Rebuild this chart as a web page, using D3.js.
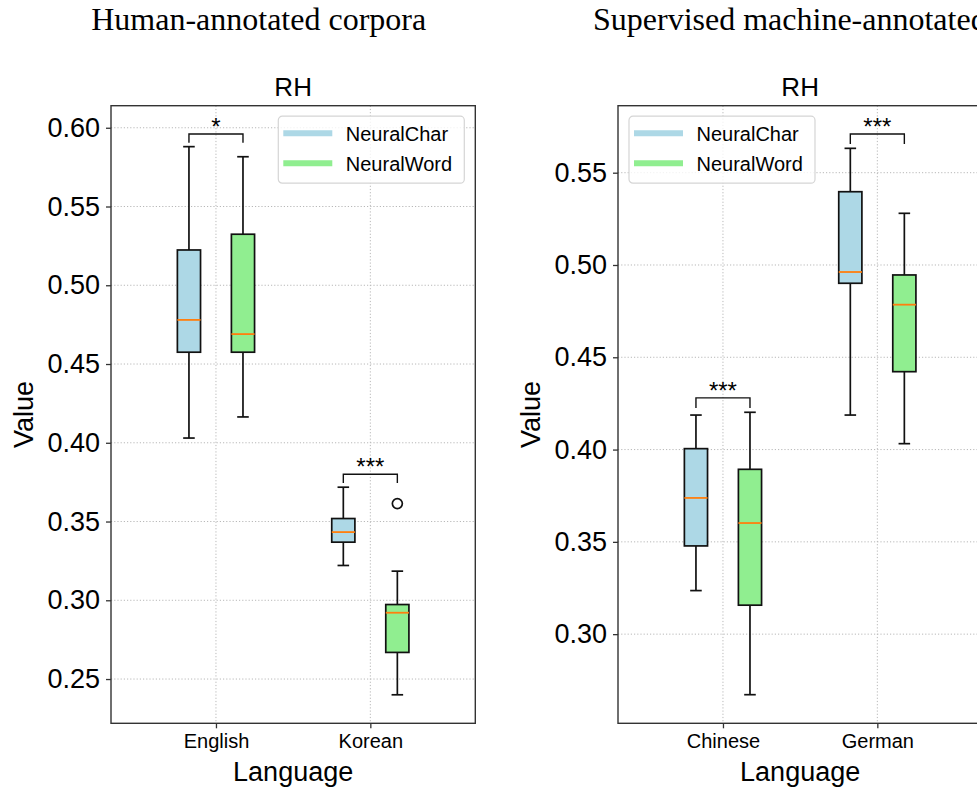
<!DOCTYPE html>
<html>
 <head>
 <title>RH boxplots</title>
 <meta charset="UTF-8">
 <style type="text/css">
  body { margin: 0; background: #fff; }
  text { font-family: "Liberation Sans", Arial, Helvetica, sans-serif; fill: #000; }
  .suptitle { font-family: "Liberation Serif", "Times New Roman", serif; }
 </style>
 <script src="https://d3js.org/d3.v7.min.js"></script>
 </head>
 <body>
 <script type="text/javascript">

    // series and categories
    var seriesNames = ["NeuralChar", "NeuralWord"];
    var seriesColors = ["#add8e6", "#90ee90"];

    var leftCategories = ["English", "Korean"];
    var rightCategories = ["Chinese", "German"];

    // box stats per category: [lower whisker, q1, median, q3, upper whisker]
    var leftCharStats = [[0.403, 0.4575, 0.478, 0.5224, 0.588], [0.3221, 0.3369, 0.3433, 0.3519, 0.3718]];
    var leftWordStats = [[0.4164, 0.4575, 0.469, 0.5324, 0.5816], [0.2400, 0.2669, 0.2921, 0.2973, 0.3185]];
    var leftCharOutliers = [[], []];
    var leftWordOutliers = [[], [0.3614]];

    var rightCharStats = [[0.3236, 0.3478, 0.3738, 0.4005, 0.4187], [0.4187, 0.4901, 0.4962, 0.5397, 0.5632]];
    var rightWordStats = [[0.2672, 0.3157, 0.3602, 0.3893, 0.4202], [0.4032, 0.4422, 0.4785, 0.4946, 0.528]];
    var rightCharOutliers = [[], []];
    var rightWordOutliers = [[], []];

    // significance marks and bracket levels
    var leftSigLabels = ["*", "***"];
    var leftSigLevels = [0.596, 0.380];
    var rightSigLabels = ["***", "***"];
    var rightSigLevels = [0.428, 0.571];

    var leftTicks = [0.25, 0.30, 0.35, 0.40, 0.45, 0.50, 0.55, 0.60];
    var rightTicks = [0.30, 0.35, 0.40, 0.45, 0.50, 0.55];

    var svg = d3.select("body").append("svg")
        .attr("width", 977)
        .attr("height", 790);

    svg.append("rect").attr("width", 977).attr("height", 790).attr("fill", "#fff");

    svg.append("text").attr("class", "suptitle")
        .attr("x", 258.7).attr("y", 30)
        .attr("text-anchor", "middle")
        .style("font-size", "32px")
        .text("Human-annotated corpora");

    svg.append("text").attr("class", "suptitle")
        .attr("x", 593).attr("y", 30)
        .style("font-size", "32px")
        .text("Supervised machine-annotated corpora");

    function drawPanel(p)
    {
        var g = svg.append("g").attr("transform", "translate(" + p.left + "," + p.top + ")");
        var width = p.width, height = p.height;

        var x = d3.scaleLinear().domain([0.32, 2.68]).range([0, width]);
        var y = d3.scaleLinear().domain(p.yDomain).range([height, 0]);
        var offset = 0.175, boxW = x(0.15) - x(0);

        // grid
        g.append("g").selectAll("line").data(p.ticks).enter().append("line")
            .attr("x1", 0).attr("x2", width)
            .attr("y1", function(d) { return y(d); })
            .attr("y2", function(d) { return y(d); })
            .attr("stroke", "#b8b8b8").attr("stroke-width", 1)
            .attr("stroke-dasharray", "1.2,2");
        g.append("g").selectAll("line").data(p.categories).enter().append("line")
            .attr("y1", 0).attr("y2", height)
            .attr("x1", function(d, i) { return x(i + 1); })
            .attr("x2", function(d, i) { return x(i + 1); })
            .attr("stroke", "#b8b8b8").attr("stroke-width", 1)
            .attr("stroke-dasharray", "1.2,2");

        // boxes
        var series = [
            {stats: p.charStats, outliers: p.charOutliers, color: seriesColors[0], shift: -offset},
            {stats: p.wordStats, outliers: p.wordOutliers, color: seriesColors[1], shift: offset}
        ];
        series.forEach(function(s) {
            s.stats.forEach(function(st, i) {
                var cx = x(i + 1 + s.shift);
                var bg = g.append("g");
                bg.append("line").attr("x1", cx).attr("x2", cx)
                    .attr("y1", y(st[0])).attr("y2", y(st[1]))
                    .attr("stroke", "#111").attr("stroke-width", 1.7);
                bg.append("line").attr("x1", cx).attr("x2", cx)
                    .attr("y1", y(st[3])).attr("y2", y(st[4]))
                    .attr("stroke", "#111").attr("stroke-width", 1.7);
                [st[0], st[4]].forEach(function(v) {
                    bg.append("line").attr("x1", cx - boxW / 4).attr("x2", cx + boxW / 4)
                        .attr("y1", y(v)).attr("y2", y(v))
                        .attr("stroke", "#111").attr("stroke-width", 1.7);
                });
                bg.append("rect")
                    .attr("x", cx - boxW / 2).attr("width", boxW)
                    .attr("y", y(st[3])).attr("height", y(st[1]) - y(st[3]))
                    .attr("fill", s.color).attr("stroke", "#111").attr("stroke-width", 1.7);
                bg.append("line").attr("x1", cx - boxW / 2).attr("x2", cx + boxW / 2)
                    .attr("y1", y(st[2])).attr("y2", y(st[2]))
                    .attr("stroke", "#ff7f0e").attr("stroke-width", 1.8);
                s.outliers[i].forEach(function(v) {
                    bg.append("circle").attr("cx", cx).attr("cy", y(v)).attr("r", 5)
                        .attr("fill", "none").attr("stroke", "#111").attr("stroke-width", 1.7);
                });
            });
        });

        // significance brackets
        p.sigLevels.forEach(function(lv, i) {
            var x1 = x(i + 1 - offset), x2 = x(i + 1 + offset);
            var drop = 0.0055;
            g.append("path")
                .attr("d", "M" + x1 + "," + y(lv - drop) + "V" + y(lv) + "H" + x2 + "V" + y(lv - drop))
                .attr("fill", "none").attr("stroke", "#111").attr("stroke-width", 1.4);
            g.append("text")
                .attr("x", (x1 + x2) / 2).attr("y", y(lv) + 1)
                .attr("text-anchor", "middle")
                .style("font-size", "24px")
                .text(p.sigLabels[i]);
        });

        // axes
        var yAxis = d3.axisLeft(y).tickValues(p.ticks).tickFormat(d3.format(".2f")).tickSizeOuter(0).tickSize(5).tickPadding(6);
        var xAxis = d3.axisBottom(x).tickValues([1, 2]).tickFormat(function(d) { return p.categories[d - 1]; }).tickSizeOuter(0).tickSize(5).tickPadding(6);

        var ya = g.append("g").call(yAxis);
        ya.select(".domain").remove();
        ya.selectAll("text").style("font-size", "27px").attr("fill", "#000");
        ya.selectAll("line").attr("stroke", "#333").attr("stroke-width", 1.3);

        var xa = g.append("g").attr("transform", "translate(0," + height + ")").call(xAxis);
        xa.select(".domain").remove();
        xa.selectAll("text").style("font-size", "20px").attr("fill", "#000");
        xa.selectAll("line").attr("stroke", "#333").attr("stroke-width", 1.3);

        g.append("rect").attr("width", width).attr("height", height)
            .attr("fill", "none").attr("stroke", "#333").attr("stroke-width", 1.4);

        // title and labels
        g.append("text").attr("x", width / 2).attr("y", -10)
            .attr("text-anchor", "middle").style("font-size", "26px").text("RH");
        g.append("text").attr("x", width / 2).attr("y", height + 58)
            .attr("text-anchor", "middle").style("font-size", "27px").text("Language");
        g.append("text")
            .attr("transform", "translate(" + p.ylabelX + "," + (height / 2) + ") rotate(-90)")
            .attr("text-anchor", "middle").style("font-size", "27px").text("Value");

        // legend
        var lg = g.append("g").attr("transform", "translate(" + p.legendX + ",10.5)");
        lg.append("rect").attr("width", 186).attr("height", 67).attr("rx", 4)
            .attr("fill", "#fff").attr("fill-opacity", 0.8)
            .attr("stroke", "#d5d5d5").attr("stroke-width", 1.2);
        seriesNames.forEach(function(name, i) {
            var ry = 17 + i * 30;
            lg.append("line").attr("x1", 5).attr("x2", 54).attr("y1", ry).attr("y2", ry)
                .attr("stroke", seriesColors[i]).attr("stroke-width", 6);
            lg.append("text").attr("x", 67.5).attr("y", ry + 7.4)
                .style("font-size", "20px").text(name);
        });
    }

    drawPanel({
        left: 111, top: 105.7, width: 364.3, height: 617.6,
        yDomain: [0.2219, 0.614], ticks: leftTicks,
        categories: leftCategories,
        charStats: leftCharStats, wordStats: leftWordStats,
        charOutliers: leftCharOutliers, wordOutliers: leftWordOutliers,
        sigLabels: leftSigLabels, sigLevels: leftSigLevels,
        legendX: 167.3, ylabelX: -78
    });

    drawPanel({
        left: 618, top: 105.7, width: 364.3, height: 617.6,
        yDomain: [0.2517, 0.5863], ticks: rightTicks,
        categories: rightCategories,
        charStats: rightCharStats, wordStats: rightWordStats,
        charOutliers: rightCharOutliers, wordOutliers: rightWordOutliers,
        sigLabels: rightSigLabels, sigLevels: rightSigLevels,
        legendX: 11, ylabelX: -78
    });

 </script>
 </body>
</html>
